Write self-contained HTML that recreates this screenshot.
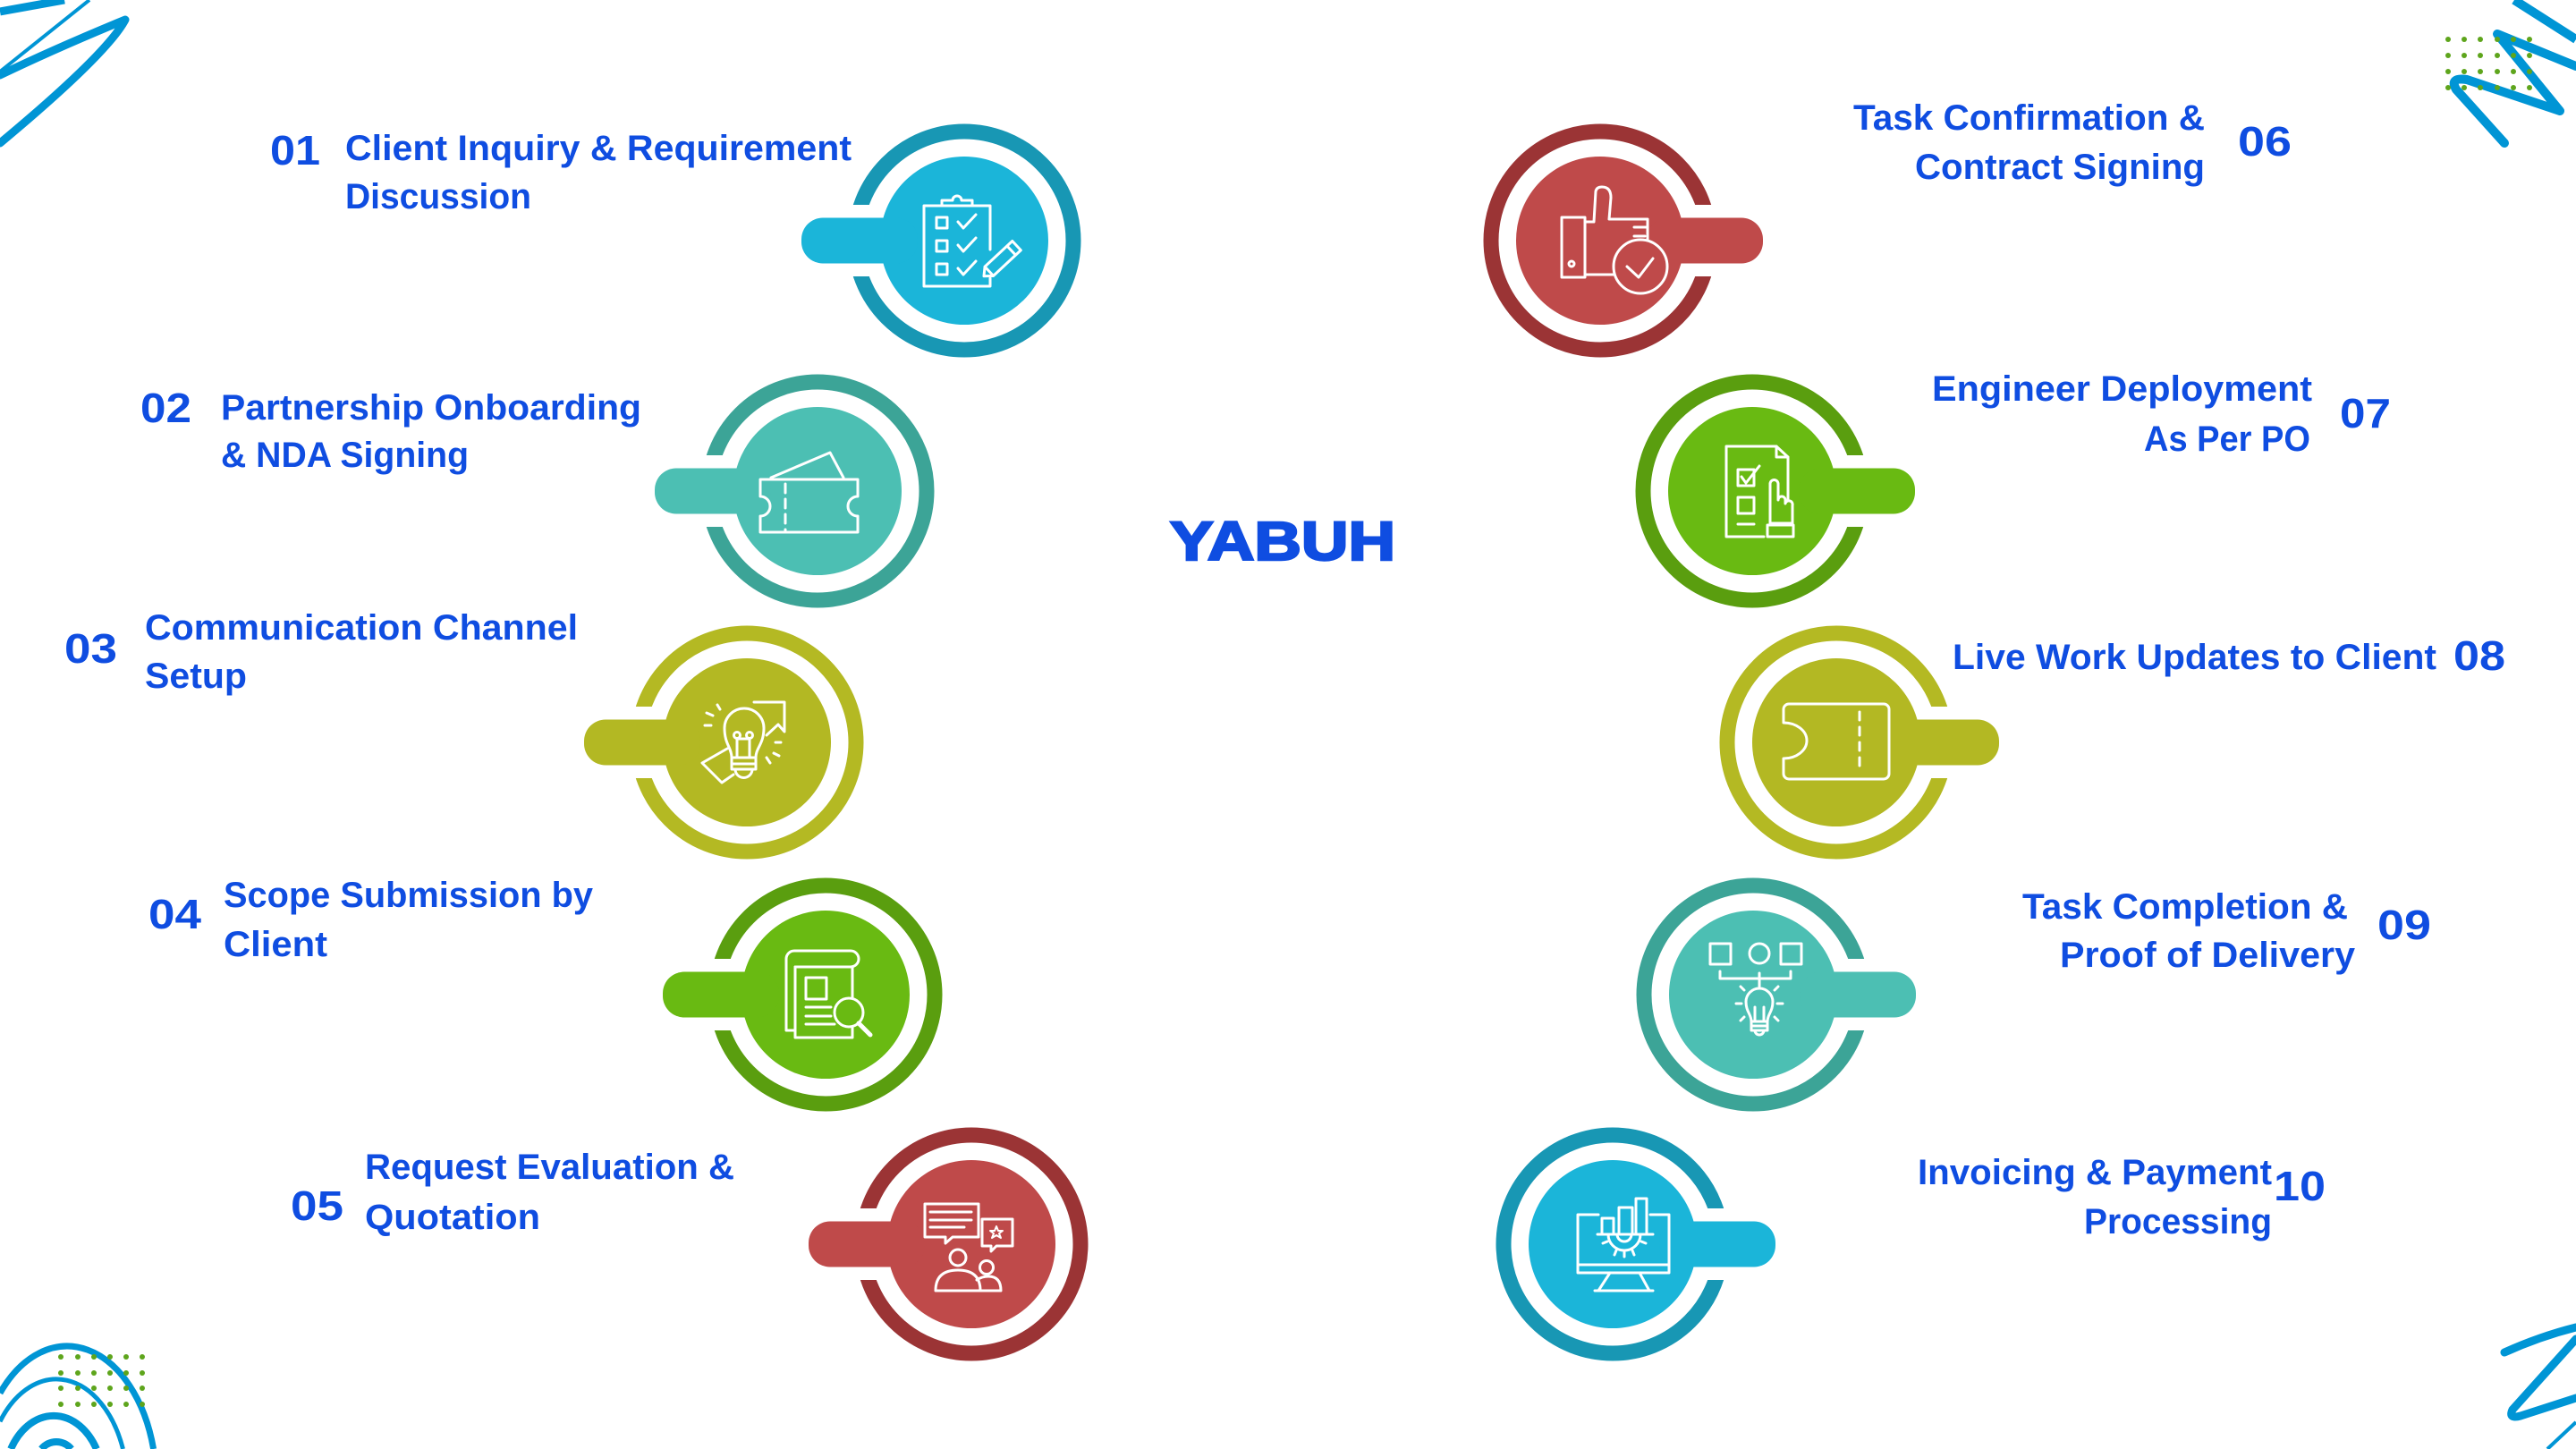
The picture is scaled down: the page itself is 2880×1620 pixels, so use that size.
<!DOCTYPE html>
<html>
<head>
<meta charset="utf-8">
<style>
html,body{margin:0;padding:0;background:#fff;width:2880px;height:1620px;overflow:hidden;}
svg{display:block;overflow:hidden;}
text{font-family:"Liberation Sans",Arial,sans-serif;font-weight:bold;fill:#0f4de1;}
.lb{font-size:40px;}
.nm{font-size:46px;}
.ic{fill:none;stroke:#fff;stroke-width:3;stroke-linejoin:round;stroke-linecap:round;}
</style>
</head>
<body>
<svg width="2880" height="1620" viewBox="0 0 2880 1620" xmlns="http://www.w3.org/2000/svg">
<rect width="2880" height="1620" fill="#fff"/>

<!-- decorations -->
<g fill="none" stroke="#0095d5" stroke-linejoin="round">
  <path d="M0,13 L72,0" stroke-width="9"/>
  <path d="M0,80 L100,0" stroke-width="4"/>
  <path d="M0,84 Q60,55 140,22 Q120,60 0,160" stroke-width="9" stroke-linecap="round"/>
  <path d="M2811,0 L2880,44" stroke-width="10"/>
  <path d="M2800,160 L2746,100 Q2738,86 2758,89 L2862,124 L2792,38 L2880,74" stroke-width="10" stroke-linecap="round"/>
  <path d="M2800,1512 Q2840,1494 2880,1484" stroke-width="9" stroke-linecap="round"/>
  <path d="M2880,1497 L2809,1576 Q2804,1587 2818,1583 L2880,1563" stroke-width="9" stroke-linecap="round"/>
  <path d="M2848,1620 L2880,1590" stroke-width="4"/>
  <path d="M0,1557.5 A100,155 0 0 1 171.6,1620" stroke-width="7"/>
  <path d="M0,1589.2 A80,123 0 0 1 137.5,1620" stroke-width="5"/>
  <path d="M12.1,1620 A56,77 0 0 1 107.9,1620" stroke-width="8"/>
  <path d="M46.2,1620 A24,28 0 0 1 79.8,1620" stroke-width="8"/>
</g>
<g fill="#5ea51c">
  <circle cx="2737" cy="44" r="3"/><circle cx="2755" cy="44" r="3"/><circle cx="2773" cy="44" r="3"/><circle cx="2792" cy="44" r="3"/><circle cx="2810" cy="44" r="3"/><circle cx="2828" cy="44" r="3"/>
  <circle cx="2737" cy="62" r="3"/><circle cx="2755" cy="62" r="3"/><circle cx="2773" cy="62" r="3"/><circle cx="2792" cy="62" r="3"/><circle cx="2810" cy="62" r="3"/><circle cx="2828" cy="62" r="3"/>
  <circle cx="2737" cy="80" r="3"/><circle cx="2755" cy="80" r="3"/><circle cx="2773" cy="80" r="3"/><circle cx="2792" cy="80" r="3"/><circle cx="2810" cy="80" r="3"/><circle cx="2828" cy="80" r="3"/>
  <circle cx="2737" cy="98" r="3"/><circle cx="2755" cy="98" r="3"/><circle cx="2773" cy="98" r="3"/><circle cx="2792" cy="98" r="3"/><circle cx="2810" cy="98" r="3"/><circle cx="2828" cy="98" r="3"/>

  <circle cx="68" cy="1517" r="3"/><circle cx="87" cy="1517" r="3"/><circle cx="105" cy="1517" r="3"/><circle cx="123" cy="1517" r="3"/><circle cx="141" cy="1517" r="3"/><circle cx="159" cy="1517" r="3"/>
  <circle cx="68" cy="1535" r="3"/><circle cx="87" cy="1535" r="3"/><circle cx="105" cy="1535" r="3"/><circle cx="123" cy="1535" r="3"/><circle cx="141" cy="1535" r="3"/><circle cx="159" cy="1535" r="3"/>
  <circle cx="68" cy="1552" r="3"/><circle cx="87" cy="1552" r="3"/><circle cx="105" cy="1552" r="3"/><circle cx="123" cy="1552" r="3"/><circle cx="141" cy="1552" r="3"/><circle cx="159" cy="1552" r="3"/>
  <circle cx="68" cy="1570" r="3"/><circle cx="87" cy="1570" r="3"/><circle cx="105" cy="1570" r="3"/><circle cx="123" cy="1570" r="3"/><circle cx="141" cy="1570" r="3"/><circle cx="159" cy="1570" r="3"/>
</g>

<!-- ============ LEFT CIRCLES ============ -->
<g transform="translate(1078,269)">
  <circle r="122" fill="none" stroke="#1897b4" stroke-width="17"/>
  <rect x="-140" y="-40" width="40" height="80" fill="#fff"/>
  <circle r="94" fill="#1bb5d9"/>
  <rect x="-182" y="-25.5" width="130" height="51" rx="24" fill="#1bb5d9"/>
  <g class="ic">
    <path d="M29,10 V-39 H-45 V51 H29 V42"/>
    <path d="M-25,-39 V-45 H-13 A5,5 0 0 1 -3,-45 H9 V-39"/>
    <rect x="-31" y="-26" width="12" height="12"/>
    <rect x="-31" y="0" width="12" height="12"/>
    <rect x="-31" y="26" width="12" height="12"/>
    <path d="M-7,-21 L-1,-14 L13,-29"/>
    <path d="M-7,5 L-1,12 L13,-3"/>
    <path d="M-7,31 L-1,38 L13,23"/>
    <g transform="translate(41,22) rotate(-43)">
      <path d="M-26,0 L-18,-7 H24 V7 H-18 Z M-18,-7 V7 M16,-7 V7"/>
    </g>
  </g>
</g>
<g transform="translate(914,549)">
  <circle r="122" fill="none" stroke="#3ca497" stroke-width="17"/>
  <rect x="-140" y="-40" width="40" height="80" fill="#fff"/>
  <circle r="94" fill="#4cbfb3"/>
  <rect x="-182" y="-25.5" width="130" height="51" rx="24" fill="#4cbfb3"/>
  <g class="ic" stroke-width="4">
    <path d="M-64,-13 H45 V6 A11,11 0 0 0 45,28 V46 H-64 V28 A11,11 0 0 0 -64,6 Z"/>
    <path d="M-36,-8 V44" stroke-dasharray="10 7"/>
    <path d="M-52,-15 L14,-43 L29,-15"/>
  </g>
</g>
<g transform="translate(835,830)">
  <circle r="122" fill="none" stroke="#b4b923" stroke-width="17"/>
  <rect x="-140" y="-40" width="40" height="80" fill="#fff"/>
  <circle r="94" fill="#b3b823"/>
  <rect x="-182" y="-25.5" width="130" height="51" rx="24" fill="#b3b823"/>
  <g class="ic">
    <path d="M8,-45 H42 V-12 L35,-20 L22,-8"/>
    <path d="M-22,7 L-50,23 L-28,45 L-15,36"/>
    <path d="M-17,17 C-17,6 -25,2 -25,-16 A22,22 0 1 1 19,-16 C19,2 10,6 10,17 Z" fill="#b3b823"/>
    <path d="M-17,17 V30 H10 V17 M-17,24 H10 M-13,30 A9.5,9.5 0 0 0 6,30"/>
    <path d="M-11,17 V-4 M3,17 V-4 M-11,-4 H3"/>
    <circle cx="-11" cy="-8" r="3.5"/><circle cx="3" cy="-8" r="3.5"/>
    <path d="M-45,-33 L-38,-30 M-33,-42 L-30,-37 M-47,-19 H-40 M32,0 H38 M30,12 L36,15 M22,17 L26,23"/>
  </g>
</g>
<g transform="translate(923,1112)">
  <circle r="122" fill="none" stroke="#5a9e0f" stroke-width="17"/>
  <rect x="-140" y="-40" width="40" height="80" fill="#fff"/>
  <circle r="94" fill="#69ba12"/>
  <rect x="-182" y="-25.5" width="130" height="51" rx="24" fill="#69ba12"/>
  <g class="ic">
    <path d="M-34,-31 V48 H30 V-31"/>
    <path d="M-44,40 V-40 A9,9 0 0 1 -35,-49 H28 A9,9 0 0 1 28,-31 H-34 M-44,40 H-34"/>
    <rect x="-22" y="-19" width="23" height="24"/>
    <path d="M-22,14 H6 M-22,24 H6 M-22,33 H10"/>
    <circle cx="26" cy="20" r="16" fill="#69ba12"/>
    <path d="M37,32 L50,45" stroke-width="5"/>
  </g>
</g>
<g transform="translate(1086,1391)">
  <circle r="122" fill="none" stroke="#9b3435" stroke-width="17"/>
  <rect x="-140" y="-40" width="40" height="80" fill="#fff"/>
  <circle r="94" fill="#bf4a4a"/>
  <rect x="-182" y="-25.5" width="130" height="51" rx="24" fill="#bf4a4a"/>
  <g class="ic">
    <path d="M12,-28 H46 V2 H28 L22,8 V2 H12 Z"/>
    <path d="M-52,-45 H8 V-8 H-21 L-29,-1 V-8 H-52 Z" fill="#bf4a4a"/>
    <path d="M-46,-36 H0 M-46,-27 H0 M-46,-19 H-8"/>
    <path d="M28,-20 L30,-15 L35,-15 L31,-12 L33,-7 L28,-10 L23,-7 L25,-12 L21,-15 L26,-15 Z" stroke-width="2"/>
    <circle cx="-15" cy="15" r="9"/>
    <path d="M-40,52 Q-40,29 -15,29 Q10,29 10,52 Z"/>
    <circle cx="17" cy="26" r="7.5"/>
    <path d="M6,40 Q12,36 19,36 Q33,36 33,52 H10"/>
  </g>
</g>

<!-- ============ RIGHT CIRCLES ============ -->
<g transform="translate(1789,269)">
  <circle r="122" fill="none" stroke="#9b3435" stroke-width="17"/>
  <rect x="100" y="-40" width="40" height="80" fill="#fff"/>
  <circle r="94" fill="#bf4a4a"/>
  <rect x="52" y="-25.5" width="130" height="51" rx="24" fill="#bf4a4a"/>
  <g class="ic">
    <rect x="-43" y="-26" width="26" height="67"/>
    <circle cx="-32" cy="26" r="3"/>
    <path d="M-17,-21 H-7 L-5,-55 Q-4,-60 2,-60 Q12,-60 12,-48 L10,-24 H53 V0"/>
    <path d="M38,-15 H53 M38,-5 H50"/>
    <path d="M-17,38 H15"/>
    <circle cx="45" cy="29" r="30"/>
    <path d="M30,29 L43,41 L59,20"/>
  </g>
</g>
<g transform="translate(1959,549)">
  <circle r="122" fill="none" stroke="#5a9e0f" stroke-width="17"/>
  <rect x="100" y="-40" width="40" height="80" fill="#fff"/>
  <circle r="94" fill="#69ba12"/>
  <rect x="52" y="-25.5" width="130" height="51" rx="24" fill="#69ba12"/>
  <g class="ic">
    <path d="M13,51 H-29 V-50 H27 L40,-38 V18"/>
    <path d="M27,-50 V-38 H40"/>
    <rect x="-16" y="-24" width="18" height="18"/>
    <path d="M-12,-16 L-7,-9 L8,-28"/>
    <rect x="-16" y="7" width="18" height="18"/>
    <path d="M-16,37 H2"/>
    <path d="M20,36 V-8 A4.5,4.5 0 0 1 29,-8 V10 A4,4 0 0 1 37,10 V14 A4,4 0 0 1 45,16 V36 Z" fill="#69ba12"/>
    <rect x="17" y="38" width="29" height="13"/>
  </g>
</g>
<g transform="translate(2053,830)">
  <circle r="122" fill="none" stroke="#b4b923" stroke-width="17"/>
  <rect x="100" y="-40" width="40" height="80" fill="#fff"/>
  <circle r="94" fill="#b3b823"/>
  <rect x="52" y="-25.5" width="130" height="51" rx="24" fill="#b3b823"/>
  <g class="ic" stroke-width="6">
    <path d="M-53,-43 H53 A6,6 0 0 1 59,-37 V35 A6,6 0 0 1 53,41 H-53 A6,6 0 0 1 -59,35 V18 A26,20 0 0 0 -59,-22 V-37 A6,6 0 0 1 -53,-43 Z"/>
    <path d="M26,-34 V34" stroke-dasharray="9 8"/>
  </g>
</g>
<g transform="translate(1960,1112)">
  <circle r="122" fill="none" stroke="#3ca497" stroke-width="17"/>
  <rect x="100" y="-40" width="40" height="80" fill="#fff"/>
  <circle r="94" fill="#4cbfb3"/>
  <rect x="52" y="-25.5" width="130" height="51" rx="24" fill="#4cbfb3"/>
  <g class="ic">
    <rect x="-48" y="-57" width="23" height="23"/>
    <circle cx="7" cy="-46" r="11"/>
    <rect x="31" y="-57" width="23" height="23"/>
    <path d="M-37,-26 V-18 H42 V-26 M7,-24 V-9"/>
    <path d="M-2,30 C-2,22 -8,19 -8,8 A15,15 0 1 1 22,8 C22,19 16,22 16,30 Z"/>
    <path d="M-2,30 V40 H16 V30 M-2,35 H16 M2,40 A5,5 0 0 0 12,40"/>
    <path d="M2,30 V14 M12,30 V14"/>
    <path d="M-13,10 H-19 M33,10 H27 M-10,-5 L-14,-9 M24,-5 L28,-9 M-10,25 L-14,29 M24,25 L28,29"/>
  </g>
</g>
<g transform="translate(1803,1391)">
  <circle r="122" fill="none" stroke="#1897b4" stroke-width="17"/>
  <rect x="100" y="-40" width="40" height="80" fill="#fff"/>
  <circle r="94" fill="#1bb5d9"/>
  <rect x="52" y="-25.5" width="130" height="51" rx="24" fill="#1bb5d9"/>
  <g class="ic">
    <path d="M-16,-33 H-39 V32 H63 V-33 H42"/>
    <path d="M-39,23 H63"/>
    <path d="M-3,32 L-16,52 H41 L30,32 M-20,52 H45"/>
    <rect x="-12" y="-29" width="13" height="18"/>
    <rect x="7" y="-41" width="15" height="30"/>
    <rect x="26" y="-51" width="12" height="40"/>
    <path d="M-17,-11 H45"/>
    <path d="M-5,-11 A18,18 0 0 0 31,-11 M5,-11 A8,8 0 0 0 21,-11"/>
    <path d="M-6,-3 L-11,-1 M32,-3 L37,-1 M4,7 L2,12 M22,7 L24,12 M13,9 V14"/>
  </g>
</g>

<!-- ============ TITLE ============ -->
<text x="1308" y="626" textLength="252" lengthAdjust="spacingAndGlyphs" stroke="#0f4de1" stroke-width="2.5" style="font-size:61px">YABUH</text>

<!-- ============ LEFT LABELS ============ -->
<text class="nm" x="302" y="184" textLength="56" lengthAdjust="spacingAndGlyphs">01</text>
<text class="lb" x="386" y="179" textLength="566" lengthAdjust="spacingAndGlyphs">Client Inquiry &amp; Requirement</text>
<text class="lb" x="386" y="233" textLength="208" lengthAdjust="spacingAndGlyphs">Discussion</text>

<text class="nm" x="157" y="472" textLength="57" lengthAdjust="spacingAndGlyphs">02</text>
<text class="lb" x="247" y="469" textLength="470" lengthAdjust="spacingAndGlyphs">Partnership Onboarding</text>
<text class="lb" x="247" y="522" textLength="277" lengthAdjust="spacingAndGlyphs">&amp; NDA Signing</text>

<text class="nm" x="72" y="741" textLength="59" lengthAdjust="spacingAndGlyphs">03</text>
<text class="lb" x="162" y="715" textLength="484" lengthAdjust="spacingAndGlyphs">Communication Channel</text>
<text class="lb" x="162" y="769" textLength="114" lengthAdjust="spacingAndGlyphs">Setup</text>

<text class="nm" x="166" y="1038" textLength="59" lengthAdjust="spacingAndGlyphs">04</text>
<text class="lb" x="250" y="1014" textLength="413" lengthAdjust="spacingAndGlyphs">Scope Submission by</text>
<text class="lb" x="250" y="1069" textLength="116" lengthAdjust="spacingAndGlyphs">Client</text>

<text class="nm" x="325" y="1364" textLength="59" lengthAdjust="spacingAndGlyphs">05</text>
<text class="lb" x="408" y="1318" textLength="413" lengthAdjust="spacingAndGlyphs">Request Evaluation &amp;</text>
<text class="lb" x="408" y="1374" textLength="196" lengthAdjust="spacingAndGlyphs">Quotation</text>

<!-- ============ RIGHT LABELS ============ -->
<text class="lb" x="2072" y="145" textLength="393" lengthAdjust="spacingAndGlyphs">Task Confirmation &amp;</text>
<text class="lb" x="2141" y="200" textLength="324" lengthAdjust="spacingAndGlyphs">Contract Signing</text>
<text class="nm" x="2502" y="174" textLength="60" lengthAdjust="spacingAndGlyphs">06</text>

<text class="lb" x="2160" y="448" textLength="425" lengthAdjust="spacingAndGlyphs">Engineer Deployment</text>
<text class="lb" x="2397" y="504" textLength="186" lengthAdjust="spacingAndGlyphs">As Per PO</text>
<text class="nm" x="2616" y="478" textLength="57" lengthAdjust="spacingAndGlyphs">07</text>

<text class="lb" x="2183" y="748" textLength="541" lengthAdjust="spacingAndGlyphs">Live Work Updates to Client</text>
<text class="nm" x="2743" y="749" textLength="58" lengthAdjust="spacingAndGlyphs">08</text>

<text class="lb" x="2261" y="1027" textLength="364" lengthAdjust="spacingAndGlyphs">Task Completion &amp;</text>
<text class="lb" x="2303" y="1081" textLength="330" lengthAdjust="spacingAndGlyphs">Proof of Delivery</text>
<text class="nm" x="2658" y="1050" textLength="60" lengthAdjust="spacingAndGlyphs">09</text>

<text class="lb" x="2144" y="1324" textLength="396" lengthAdjust="spacingAndGlyphs">Invoicing &amp; Payment</text>
<text class="lb" x="2330" y="1379" textLength="210" lengthAdjust="spacingAndGlyphs">Processing</text>
<text class="nm" x="2542" y="1342" textLength="58" lengthAdjust="spacingAndGlyphs">10</text>
</svg>
</body>
</html>
